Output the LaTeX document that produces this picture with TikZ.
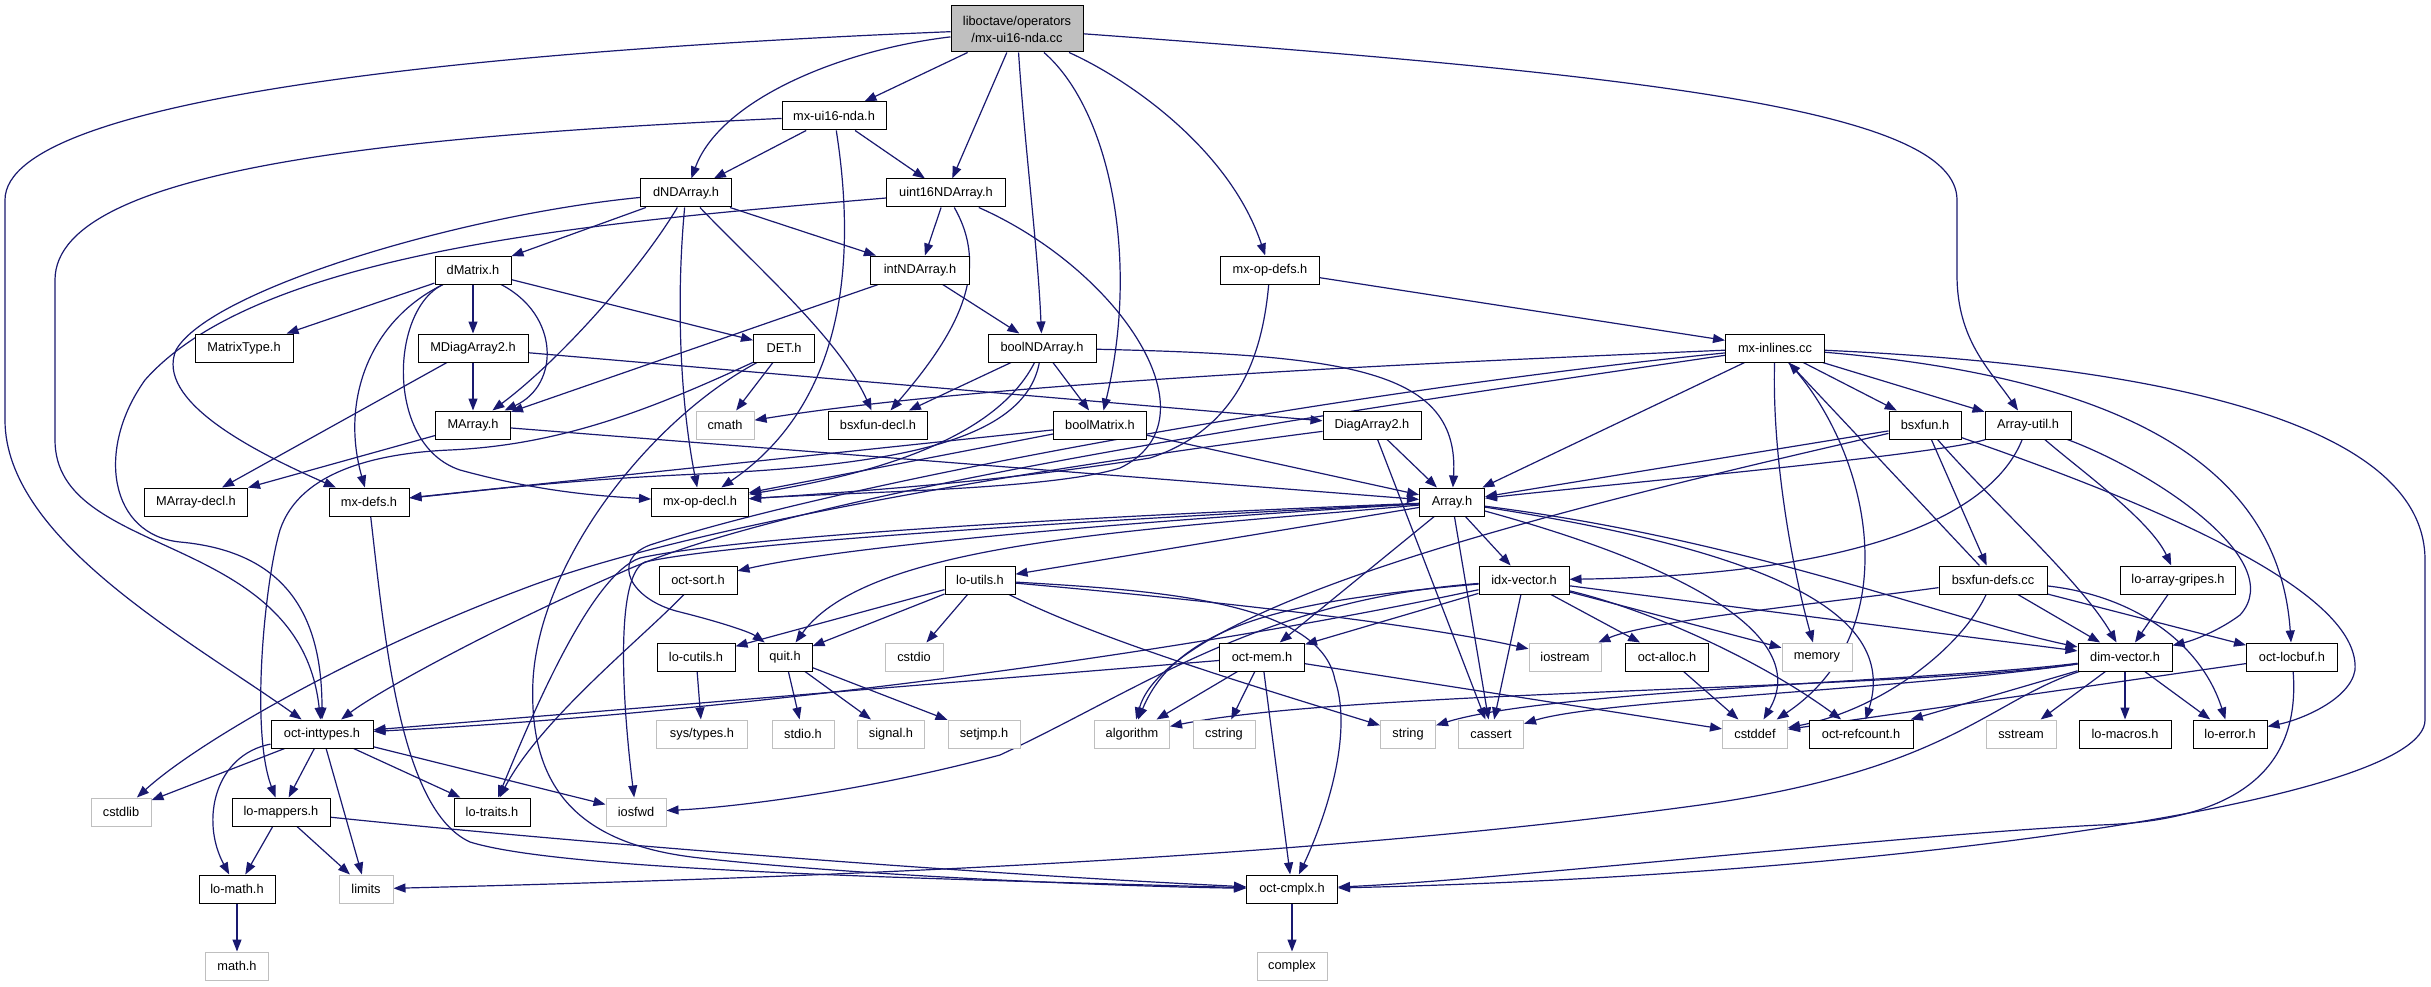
\documentclass[tikz,border=0pt]{standalone}
\usepackage{fontspec}
\setmainfont{Liberation Sans}
\usetikzlibrary{arrows.meta}
\pgfdeclarelayer{bg}
\pgfsetlayers{bg,main}
\definecolor{edgeblue}{HTML}{191970}
\definecolor{sysgray}{HTML}{BFBFBF}
\definecolor{rootgray}{HTML}{BFBFBF}
\newcommand{\lblfont}{\fontsize{12.8}{17}\selectfont}
\begin{document}
\begin{tikzpicture}[x=1pt,y=-1pt,
  hdr/.style={draw=black, line width=1pt, fill=white, inner sep=0pt, minimum height=28pt, font=\lblfont, anchor=center},
  sys/.style={hdr, draw=sysgray},
  edg/.style={draw=edgeblue, line width=1.2pt, -{Triangle[length=12pt,width=9pt]}}]
\useasboundingbox (0,0) rectangle (2431,987);
% ---------- nodes ----------
\node[hdr, fill=rootgray, minimum width=132pt, minimum height=46pt, align=center] (root) at (1017,29) {liboctave/operators\\/mx-ui16-nda.cc};
\node[hdr, minimum width=104pt] (mxh) at (834,116) {mx-ui16-nda.h};
\node[hdr, minimum width=91pt] (dND) at (686,193) {dNDArray.h};
\node[hdr, minimum width=119pt] (u16) at (946,193) {uint16NDArray.h};
\node[hdr, minimum width=99pt] (intND) at (920,270) {intNDArray.h};
\node[hdr, minimum width=76pt] (dMat) at (473,270) {dMatrix.h};
\node[hdr, minimum width=99pt] (opdefs) at (1270,270) {mx-op-defs.h};
\node[hdr, minimum width=98pt] (MT) at (244,348) {MatrixType.h};
\node[hdr, minimum width=110pt] (MDA) at (473,348) {MDiagArray2.h};
\node[hdr, minimum width=61pt] (DET) at (784,348) {DET.h};
\node[hdr, minimum width=108pt] (bND) at (1042,348) {boolNDArray.h};
\node[hdr, minimum width=99pt] (mxinl) at (1775,348) {mx-inlines.cc};
\node[hdr, minimum width=75pt] (MA) at (473,425) {MArray.h};
\node[sys, minimum width=58pt] (cmath) at (725,425) {cmath};
\node[hdr, minimum width=99pt] (bsxd) at (878,425) {bsxfun-decl.h};
\node[hdr, minimum width=93pt] (bM) at (1100,425) {boolMatrix.h};
\node[hdr, minimum width=98pt] (DA2) at (1372,425) {DiagArray2.h};
\node[hdr, minimum width=72pt] (bsx) at (1925,425) {bsxfun.h};
\node[hdr, minimum width=86pt] (AU) at (2028,425) {Array-util.h};
\node[hdr, minimum width=103pt] (MAd) at (196,502) {MArray-decl.h};
\node[hdr, minimum width=80pt] (mxdefs) at (369,502) {mx-defs.h};
\node[hdr, minimum width=97pt] (opdecl) at (700,502) {mx-op-decl.h};
\node[hdr, minimum width=65pt] (Arr) at (1452,502) {Array.h};
\node[hdr, minimum width=78pt] (osort) at (698,580) {oct-sort.h};
\node[hdr, minimum width=70pt] (lut) at (980,580) {lo-utils.h};
\node[hdr, minimum width=90pt] (idx) at (1524,580) {idx-vector.h};
\node[hdr, minimum width=108pt] (bdefs) at (1993,580) {bsxfun-defs.cc};
\node[hdr, minimum width=115pt] (lag) at (2178,580) {lo-array-gripes.h};
\node[hdr, minimum width=78pt] (lcu) at (696,657) {lo-cutils.h};
\node[hdr, minimum width=54pt] (quit) at (785,657) {quit.h};
\node[sys, minimum width=58pt] (cstdio) at (914,657) {cstdio};
\node[hdr, minimum width=85pt] (omem) at (1262,657) {oct-mem.h};
\node[sys, minimum width=72pt] (iostream) at (1565,657) {iostream};
\node[hdr, minimum width=83pt] (oalloc) at (1667,657) {oct-alloc.h};
\node[sys, minimum width=70pt] (memory) at (1817,657) {memory};
\node[hdr, minimum width=94pt] (dimv) at (2125,657) {dim-vector.h};
\node[hdr, minimum width=91pt] (olb) at (2292,657) {oct-locbuf.h};
\node[hdr, minimum width=102pt] (oint) at (322,734) {oct-inttypes.h};
\node[sys, minimum width=91pt] (systypes) at (702,734) {sys/types.h};
\node[sys, minimum width=62pt] (stdioh) at (803,734) {stdio.h};
\node[sys, minimum width=67pt] (signal) at (891,734) {signal.h};
\node[sys, minimum width=72pt] (setjmp) at (984,734) {setjmp.h};
\node[sys, minimum width=75pt] (algo) at (1132,734) {algorithm};
\node[sys, minimum width=62pt] (cstring) at (1224,734) {cstring};
\node[sys, minimum width=55pt] (string) at (1408,734) {string};
\node[sys, minimum width=65pt] (cassert) at (1491,734) {cassert};
\node[sys, minimum width=65pt] (cstddef) at (1755,734) {cstddef};
\node[hdr, minimum width=104pt] (orc) at (1861,734) {oct-refcount.h};
\node[sys, minimum width=70pt] (sstream) at (2021,734) {sstream};
\node[hdr, minimum width=92pt] (lmac) at (2125,734) {lo-macros.h};
\node[hdr, minimum width=74pt] (lerr) at (2230,734) {lo-error.h};
\node[sys, minimum width=60pt] (cstdlib) at (121,812) {cstdlib};
\node[hdr, minimum width=98pt] (lmap) at (281,812) {lo-mappers.h};
\node[hdr, minimum width=76pt] (ltraits) at (492,812) {lo-traits.h};
\node[sys, minimum width=60pt] (iosfwd) at (636,812) {iosfwd};
\node[hdr, minimum width=76pt] (lmath) at (237,889) {lo-math.h};
\node[sys, minimum width=54pt] (limits) at (366,889) {limits};
\node[hdr, minimum width=91pt] (ocmplx) at (1292,889) {oct-cmplx.h};
\node[sys, minimum width=63pt] (mathh) at (237,966) {math.h};
\node[sys, minimum width=70pt] (complex) at (1292,966) {complex};
% ---------- edges ----------
\begin{pgfonlayer}{bg}
\fill[white] (0,0) rectangle (2431,987);
% root
\draw[edg] (root) -- (mxh);
\draw[edg] (root) .. controls (840,50) and (720,100) .. (dND);
\draw[edg] (root) -- (u16);
\draw[edg] (root) .. controls (1025,150) and (1038,250) .. (bND);
\draw[edg] (root) .. controls (1110,110) and (1140,260) .. (bM);
\draw[edg] (root) .. controls (1130,80) and (1230,150) .. (opdefs);
\draw[edg] (root) .. controls (1650,75) and (1957,110) .. (1957,200) -- (1957,275) .. controls (1957,340) and (1990,370) .. (AU);
\draw[edg] (root) .. controls (500,50) and (5,95) .. (5,200) -- (5,420) .. controls (5,540) and (190,640) .. (oint);
% mx-ui16-nda.h
\draw[edg] (mxh) -- (dND);
\draw[edg] (mxh) -- (u16);
\draw[edg] (mxh) .. controls (855,250) and (850,400) .. (opdecl);
\draw[edg] (mxh) .. controls (420,135) and (55,165) .. (55,280) -- (55,440) .. controls (55,560) and (300,530) .. (oint);
% dNDArray.h
\draw[edg] (dND) -- (dMat);
\draw[edg] (dND) -- (intND);
\draw[edg] (dND) .. controls (640,270) and (560,360) .. (MA);
\draw[edg] (dND) .. controls (676,300) and (680,400) .. (opdecl);
\draw[edg] (dND) .. controls (760,270) and (840,340) .. (bsxd);
\draw[edg] (dND) .. controls (460,215) and (210,290) .. (176,350) .. controls (155,400) and (250,450) .. (mxdefs);
% uint16NDArray.h
\draw[edg] (u16) -- (intND);
\draw[edg] (u16) .. controls (990,270) and (960,330) .. (bsxd);
\draw[edg] (u16) .. controls (1120,270) and (1220,420) .. (1120,468) .. controls (1050,490) and (850,492) .. (opdecl);
\draw[edg] (u16) .. controls (600,222) and (260,250) .. (145,380) .. controls (95,450) and (110,535) .. (180,542) .. controls (290,552) and (322,620) .. (oint);
% intNDArray.h
\draw[edg] (intND) -- (MA);
\draw[edg] (intND) -- (bND);
% dMatrix.h
\draw[edg] (dMat) -- (MT);
\draw[edg] (dMat) -- (MDA);
\draw[edg] (dMat) .. controls (560,315) and (560,385) .. (MA);
\draw[edg] (dMat) .. controls (370,320) and (340,400) .. (mxdefs);
\draw[edg] (dMat) .. controls (390,310) and (385,445) .. (460,470) .. controls (540,492) and (600,496) .. (opdecl);
\draw[edg] (dMat) -- (DET);
% MDiagArray2.h / MArray.h
\draw[edg] (MDA) -- (MA);
\draw[edg] (MDA) -- (DA2);
\draw[edg] (MDA) -- (MAd);
\draw[edg] (MA) -- (Arr);
\draw[edg] (MA) -- (MAd);
% DET.h
\draw[edg] (DET) -- (cmath);
\draw[edg] (DET) .. controls (650,420) and (540,560) .. (533,680) .. controls (528,790) and (580,845) .. (700,858) .. controls (850,875) and (1100,886) .. (ocmplx);
\draw[edg] (DET) .. controls (650,410) and (560,445) .. (450,450) .. controls (380,453) and (300,470) .. (280,530) .. controls (265,580) and (250,730) .. (lmap);
% mx-defs.h
\draw[edg] (mxdefs) .. controls (385,640) and (400,810) .. (470,842) .. controls (560,870) and (900,878) .. (ocmplx);
% boolNDArray.h / boolMatrix.h
\draw[edg] (bND) -- (bsxd);
\draw[edg] (bND) -- (bM);
\draw[edg] (bND) .. controls (1000,430) and (900,470) .. (opdecl);
\draw[edg] (bND) .. controls (1025,440) and (900,465) .. (700,474) .. controls (560,480) and (470,492) .. (mxdefs);
\draw[edg] (bND) .. controls (1350,355) and (1460,370) .. (Arr);
\draw[edg] (bM) -- (mxdefs);
\draw[edg] (bM) -- (opdecl);
\draw[edg] (bM) -- (Arr);
% mx-op-defs.h
\draw[edg] (opdefs) -- (mxinl);
\draw[edg] (opdefs) .. controls (1262,360) and (1235,430) .. (1150,458) .. controls (1000,482) and (850,492) .. (opdecl);
% DiagArray2.h
\draw[edg] (DA2) -- (Arr);
\draw[edg] (DA2) -- (cassert);
\draw[edg] (DA2) .. controls (1100,460) and (700,520) .. (520,590) .. controls (360,650) and (200,740) .. (cstdlib);
% mx-inlines.cc
\draw[edg] (mxinl) .. controls (1500,360) and (1000,380) .. (cmath);
\draw[edg] (mxinl) -- (Arr);
\draw[edg] (mxinl) -- (bsx);
\draw[edg] (mxinl) -- (AU);
\draw[edg] (mxinl) .. controls (2150,380) and (2280,480) .. (olb);
\draw[edg] (mxinl) .. controls (2150,365) and (2425,420) .. (2425,560) -- (2425,720) .. controls (2425,800) and (1900,875) .. (ocmplx);
\draw[edg] (mxinl) .. controls (1772,450) and (1790,560) .. (memory);
\draw[edg] (mxinl) .. controls (1870,450) and (1910,630) .. (cstddef);
\draw[edg] (mxinl) .. controls (1350,390) and (850,480) .. (650,545) .. controls (610,560) and (630,600) .. (680,612) .. controls (720,622) and (750,632) .. (quit);
\draw[edg] (mxinl) .. controls (1350,410) and (800,490) .. (620,573) .. controls (500,625) and (380,690) .. (oint);
% Array.h
\draw[edg] (Arr) .. controls (1150,520) and (850,545) .. (osort);
\draw[edg] (Arr) -- (lut);
\draw[edg] (Arr) .. controls (1150,530) and (870,540) .. (quit);
\draw[edg] (Arr) .. controls (1000,520) and (720,540) .. (640,558) .. controls (590,575) and (530,720) .. (ltraits);
\draw[edg] (Arr) .. controls (1000,525) and (720,545) .. (645,562) .. controls (615,575) and (622,700) .. (iosfwd);
\draw[edg] (Arr) -- (idx);
\draw[edg] (Arr) -- (omem);
\draw[edg] (Arr) .. controls (1750,540) and (1950,620) .. (dimv);
\draw[edg] (Arr) .. controls (1760,550) and (1900,610) .. (orc);
\draw[edg] (Arr) -- (cassert);
\draw[edg] (Arr) .. controls (1700,570) and (1810,640) .. (cstddef);
% idx-vector.h
\draw[edg] (idx) .. controls (1150,660) and (700,715) .. (oint);
\draw[edg] (idx) .. controls (1300,600) and (1180,620) .. (algo);
\draw[edg] (idx) .. controls (1260,600) and (1140,690) .. (1000,755) .. controls (850,795) and (720,808) .. (iosfwd);
\draw[edg] (idx) -- (omem);
\draw[edg] (idx) -- (cassert);
\draw[edg] (idx) -- (oalloc);
\draw[edg] (idx) -- (memory);
\draw[edg] (idx) -- (dimv);
\draw[edg] (idx) .. controls (1650,610) and (1760,660) .. (orc);
% dim-vector.h
\draw[edg] (dimv) -- (sstream);
\draw[edg] (dimv) -- (lmac);
\draw[edg] (dimv) -- (lerr);
\draw[edg] (dimv) -- (orc);
\draw[edg] (dimv) .. controls (1990,700) and (1950,770) .. (1700,805) .. controls (1300,860) and (800,878) .. (limits);
\draw[edg] (dimv) .. controls (1950,680) and (1550,690) .. (string);
\draw[edg] (dimv) .. controls (1900,690) and (1600,700) .. (cassert);
\draw[edg] (dimv) .. controls (1900,690) and (1350,690) .. (algo);
% bsxfun.h
\draw[edg] (bsx) -- (Arr);
\draw[edg] (bsx) -- (bdefs);
\draw[edg] (bsx) .. controls (1990,500) and (2080,580) .. (dimv);
\draw[edg] (bsx) .. controls (2200,520) and (2360,600) .. (2355,670) .. controls (2350,700) and (2300,720) .. (lerr);
\draw[edg] (bsx) .. controls (1600,500) and (1170,600) .. (algo);
% Array-util.h
\draw[edg] (AU) .. controls (1940,455) and (1600,485) .. (Arr);
\draw[edg] (AU) .. controls (1990,520) and (1850,575) .. (idx);
\draw[edg] (AU) .. controls (2080,470) and (2150,520) .. (lag);
\draw[edg] (AU) .. controls (2150,470) and (2290,560) .. (2240,615) .. controls (2220,630) and (2195,640) .. (dimv);
\draw[edg] (lag) -- (dimv);
% bsxfun-defs.cc
\draw[edg] (bdefs) -- (mxinl);
\draw[edg] (bdefs) -- (dimv);
\draw[edg] (bdefs) -- (olb);
\draw[edg] (bdefs) .. controls (2130,595) and (2200,640) .. (lerr);
\draw[edg] (bdefs) .. controls (1850,600) and (1650,620) .. (iostream);
\draw[edg] (bdefs) .. controls (1960,650) and (1880,710) .. (cstddef);
% oct-locbuf.h
\draw[edg] (olb) .. controls (2300,760) and (2250,820) .. (2100,825) .. controls (1900,835) and (1500,880) .. (ocmplx);
\draw[edg] (olb) -- (cstddef);
% oct-mem.h
\draw[edg] (omem) -- (cstring);
\draw[edg] (omem) -- (cstddef);
\draw[edg] (omem) -- (ocmplx);
\draw[edg] (omem) -- (algo);
\draw[edg] (omem) -- (oint);
% lo-utils.h
\draw[edg] (lut) -- (lcu);
\draw[edg] (lut) -- (quit);
\draw[edg] (lut) -- (cstdio);
\draw[edg] (lut) .. controls (1150,595) and (1400,620) .. (iostream);
\draw[edg] (lut) .. controls (1100,640) and (1250,685) .. (string);
\draw[edg] (lut) .. controls (1150,590) and (1320,600) .. (1335,680) .. controls (1355,740) and (1320,830) .. (ocmplx);
% quit.h, lo-cutils.h, oct-sort.h, oct-alloc.h
\draw[edg] (quit) -- (stdioh);
\draw[edg] (quit) -- (signal);
\draw[edg] (quit) -- (setjmp);
\draw[edg] (lcu) -- (systypes);
\draw[edg] (osort) .. controls (640,640) and (540,720) .. (ltraits);
\draw[edg] (oalloc) -- (cstddef);
% oct-inttypes.h
\draw[edg] (oint) -- (cstdlib);
\draw[edg] (oint) -- (lmap);
\draw[edg] (oint) .. controls (215,755) and (200,820) .. (lmath);
\draw[edg] (oint) -- (limits);
\draw[edg] (oint) -- (ltraits);
\draw[edg] (oint) -- (iosfwd);
% lo-mappers.h etc.
\draw[edg] (lmap) -- (lmath);
\draw[edg] (lmap) -- (limits);
\draw[edg] (lmap) .. controls (500,835) and (900,870) .. (ocmplx);
\draw[edg] (lmath) -- (mathh);
\draw[edg] (ocmplx) -- (complex);
\end{pgfonlayer}
\end{tikzpicture}
\end{document}
